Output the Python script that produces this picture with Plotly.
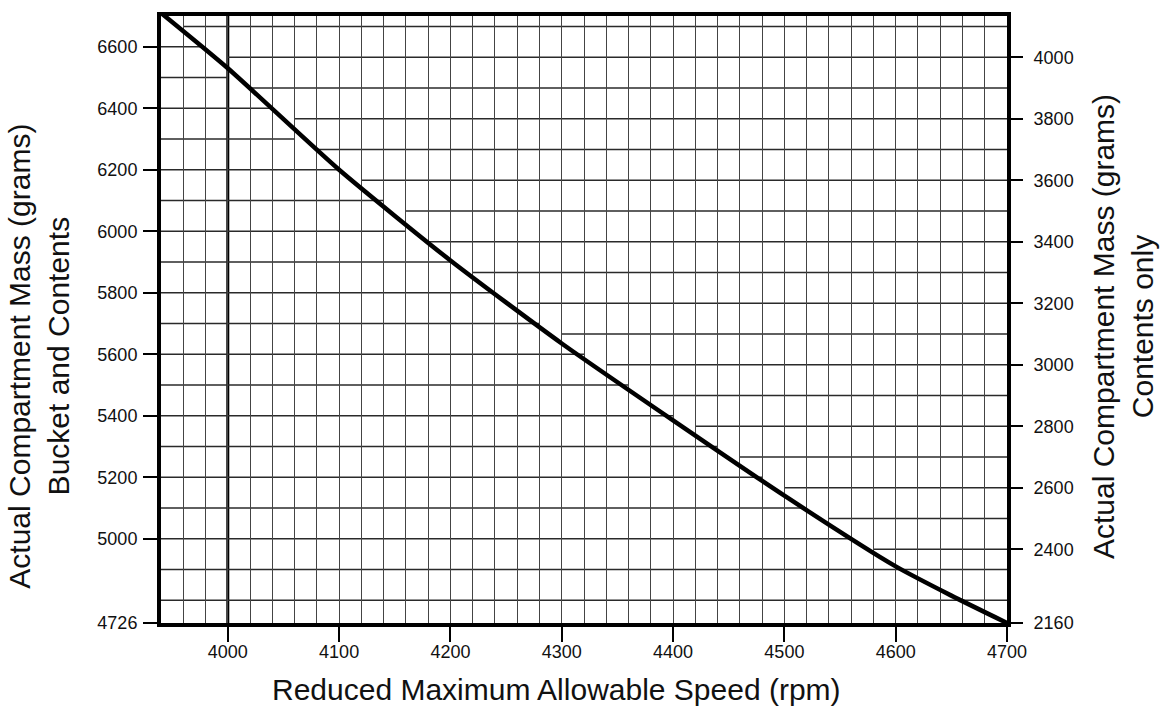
import numpy as np
import plotly.graph_objects as go

# ---- data ----
speed_rpm = [3940, 4000, 4100, 4200, 4300, 4400, 4500, 4600, 4650, 4700]
mass_bucket_contents = [6710, 6530, 6200, 5905, 5635, 5385, 5140, 4910, 4815, 4726]

x_tick_vals = [4000, 4100, 4200, 4300, 4400, 4500, 4600, 4700]
left_tick_vals = [4726, 5000, 5200, 5400, 5600, 5800, 6000, 6200, 6400, 6600]
right_tick_vals = [2160, 2400, 2600, 2800, 3000, 3200, 3400, 3600, 3800, 4000]
left_grid_vals = list(range(4800, 6700, 100))
right_grid_vals = list(range(2400, 4200, 100))

x_range = [3940, 4700]
left_range = [4726, 6700]
offset = left_tick_vals[0] - right_tick_vals[0]  # bucket mass
right_range = [left_range[0] - offset, left_range[1] - offset]
mass_contents_only = [m - offset for m in mass_bucket_contents]

GRID_STEP = 20

def crossing(v_left):
    # rpm where the curve reaches a given (bucket+contents) mass
    return float(np.interp(v_left, mass_bucket_contents[::-1], speed_rpm[::-1]))

shapes = []
hcol = "#2a2a2a"
vcol = "#444444"
gw = 1.4
lowest_right_as_left = min(right_grid_vals) + offset
for v in left_grid_vals:
    if v < lowest_right_as_left:
        x1 = x_range[1]
    else:
        x1 = round(crossing(v) / GRID_STEP) * GRID_STEP
    x1 = min(max(x1, x_range[0]), x_range[1])
    shapes.append(dict(type="line", xref="x", yref="y", x0=x_range[0], x1=x1,
                       y0=v, y1=v, layer="below", line=dict(color=hcol, width=gw)))
for w in right_grid_vals:
    x0 = np.ceil(crossing(w + offset) / GRID_STEP) * GRID_STEP
    x0 = min(max(x0, x_range[0]), x_range[1])
    shapes.append(dict(type="line", xref="x", yref="y2", x0=x0, x1=x_range[1],
                       y0=w, y1=w, layer="below", line=dict(color=hcol, width=gw)))
# emphasised first major vertical grid line
shapes.append(dict(type="line", xref="x", yref="paper", x0=x_tick_vals[0], x1=x_tick_vals[0],
                   y0=0, y1=1, layer="below", line=dict(color="black", width=3)))

fig = go.Figure()
fig.add_trace(go.Scatter(x=speed_rpm, y=mass_contents_only, yaxis="y2", mode="lines",
                         line=dict(color="rgba(0,0,0,0)", width=0), hoverinfo="skip",
                         showlegend=False))
fig.add_trace(go.Scatter(x=speed_rpm, y=mass_bucket_contents, yaxis="y", mode="lines",
                         line=dict(color="black", width=4.5, shape="spline", smoothing=0.6),
                         showlegend=False))

tick_font = dict(family="Liberation Sans, Arial, sans-serif", size=18, color="#111111")
title_font = dict(family="Liberation Sans, Arial, sans-serif", size=30, color="#111111")

fig.update_layout(
    width=1168, height=713,
    margin=dict(l=161, r=161, t=13, b=90, pad=0),
    paper_bgcolor="white", plot_bgcolor="white",
    showlegend=False,
    xaxis=dict(range=x_range, tickmode="array", tickvals=x_tick_vals,
               ticktext=[str(v) for v in x_tick_vals],
               ticks="outside", ticklen=15, tickwidth=2, tickcolor="black",
               showline=True, linewidth=4, linecolor="black", mirror=True,
               showgrid=True, gridcolor=vcol, gridwidth=gw, zeroline=False,
               minor=dict(tickmode="linear", tick0=x_range[0], dtick=GRID_STEP,
                          showgrid=True, gridcolor=vcol, gridwidth=gw, ticks=""),
               tickfont=tick_font, ticklabelstandoff=-6),
    yaxis=dict(range=left_range, tickmode="array", tickvals=left_tick_vals,
               ticktext=[str(v) for v in left_tick_vals],
               ticks="outside", ticklen=14, tickwidth=2, tickcolor="black",
               showline=True, linewidth=4, linecolor="black", mirror=True,
               showgrid=False, zeroline=False, tickfont=tick_font,
               ticklabelstandoff=2),
    yaxis2=dict(range=right_range, overlaying="y", side="right", anchor="x",
                tickmode="array", tickvals=right_tick_vals,
                ticktext=[str(v) for v in right_tick_vals],
                ticks="outside", ticklen=15, tickwidth=2, tickcolor="black",
                showline=False, showgrid=False, zeroline=False, tickfont=tick_font,
                ticklabelstandoff=7),
    shapes=shapes,
    annotations=[
        dict(text="Reduced Maximum Allowable Speed (rpm)", xref="paper", yref="paper",
             x=0.4674, y=-0.109, xanchor="center", yanchor="middle", showarrow=False,
             font=title_font),
        dict(text="Actual Compartment Mass (grams)<br>Bucket and Contents", xref="paper",
             yref="paper", x=-0.1436, y=0.4396, xanchor="center", yanchor="middle",
             textangle=-90, showarrow=False, font=title_font),
        dict(text="Actual Compartment Mass (grams)<br>Contents only", xref="paper",
             yref="paper", x=1.138, y=0.4888, xanchor="center", yanchor="middle",
             textangle=-90, showarrow=False, font=title_font),
    ],
)

fig.write_html("out.html", config={"displayModeBar": False},
               post_script="document.body.style.margin='0px';document.body.style.padding='0px';")
